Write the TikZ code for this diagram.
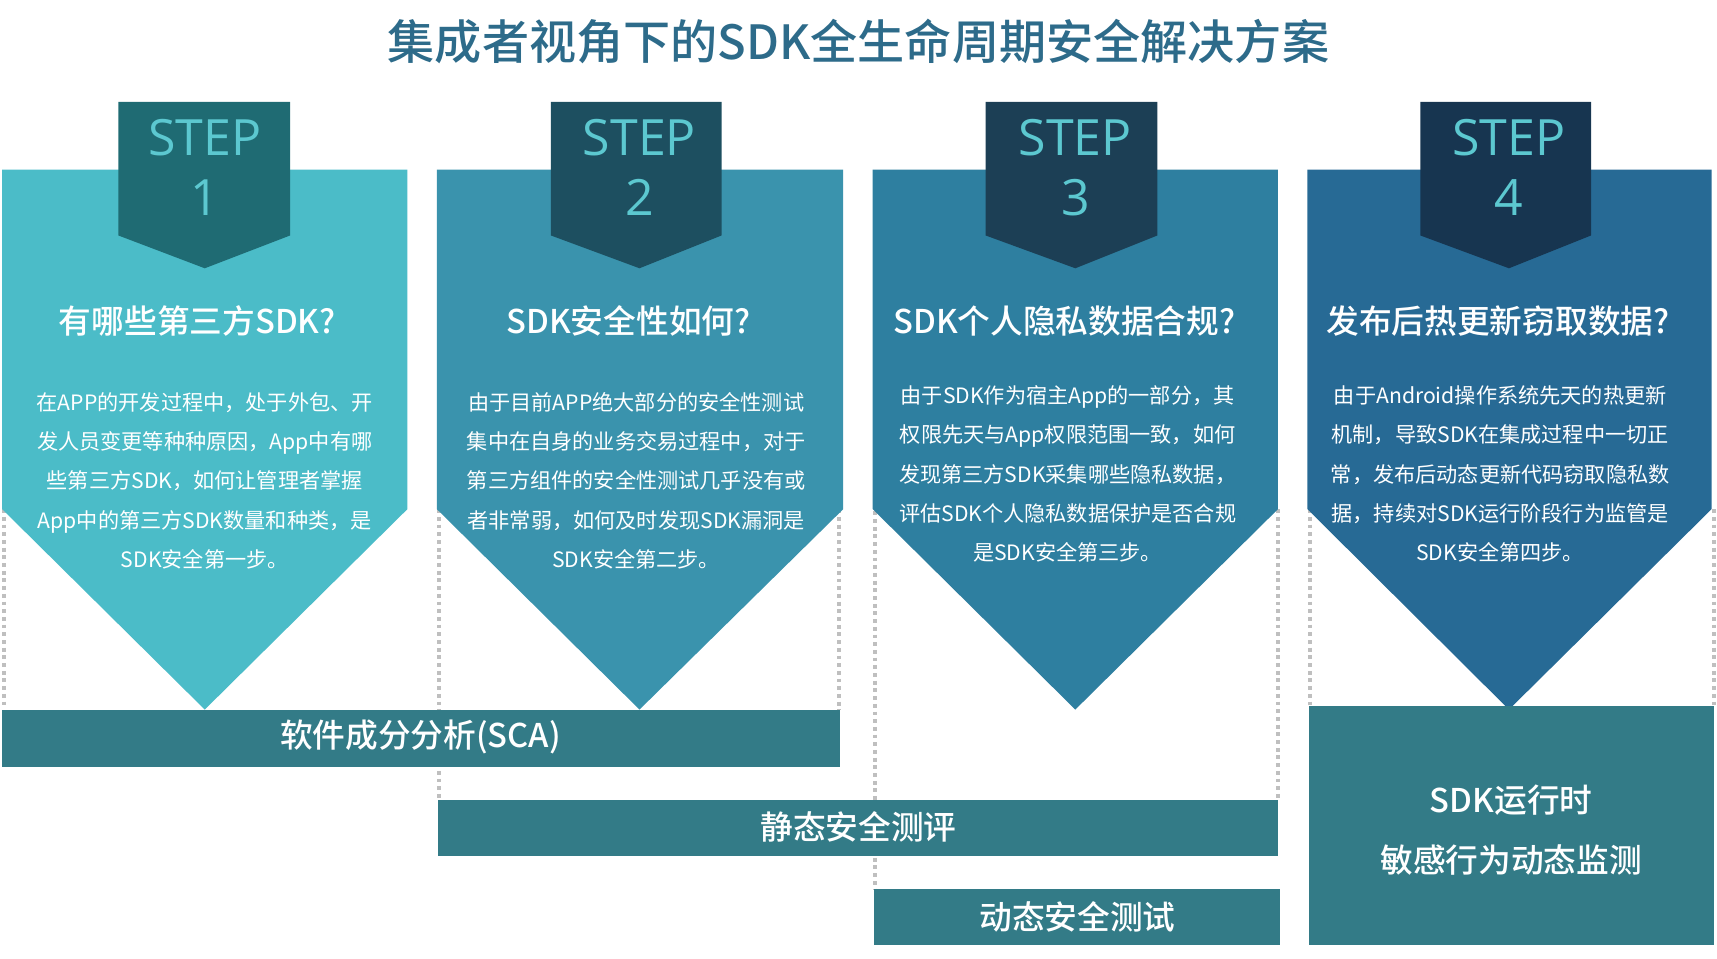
\documentclass[tikz,border=0pt]{standalone}
\usepackage{fontspec}
\setmainfont{Noto Sans CJK SC}[BoldFont={Noto Sans CJK SC Medium}]
\newfontfamily\stepfont{Open Sans}
\begin{document}
\begin{tikzpicture}[x=0.02cm,y=-0.02cm,
  hd/.style={text=white,font=\fontsize{17}{20}\selectfont\bfseries},
  bd/.style={text=white,align=center,font=\fontsize{11}{20.4}\selectfont},
  st/.style={text=stepc,align=center,font=\stepfont\fontsize{26}{31}\selectfont},
  bar/.style={fill=barc,draw=none},
  bt/.style={text=white,font=\fontsize{17}{31}\selectfont\bfseries,align=center},
  dl/.style={draw=gray!50,line width=2pt,dotted}]
\definecolor{c1}{HTML}{4BBCC8}\definecolor{c2}{HTML}{3A93AD}
\definecolor{c3}{HTML}{2E7FA0}\definecolor{c4}{HTML}{276A95}
\definecolor{s1}{HTML}{1F6B73}\definecolor{s2}{HTML}{1D4F60}
\definecolor{s3}{HTML}{1C3F55}\definecolor{s4}{HTML}{173550}
\definecolor{stepc}{HTML}{5CC8D0}\definecolor{barc}{HTML}{337B87}
\definecolor{tc}{HTML}{2D6B8A}
\useasboundingbox (0,0) rectangle (1568,875);
\node[text=tc,font=\fontsize{24.5}{28}\selectfont\bfseries] (title) at (784,38) {集成者视角下的SDK全生命周期安全解决方案};
% dotted lines
\draw[dl] (4,465) -- (4,645);
\draw[dl] (401,465) -- (401,730);
\draw[dl] (766,430) -- (766,648);
\draw[dl] (799,460) -- (799,812);
\draw[dl] (1167,465) -- (1167,730);
\draw[dl] (1196,465) -- (1196,645);
\draw[dl] (1565,465) -- (1565,645);
% columns
\foreach \l/\r/\m/\c/\s/\sl/\sr/\n in {2/372/187/c1/s1/108/265/1, 399/770/584/c2/s2/503/659/2, 797/1167/982/c3/s3/900/1057/3, 1194/1563/1378/c4/s4/1297/1453/4}{
  \fill[\c] (\l,155) -- (\r,155) -- (\r,465) -- (\m,648) -- (\l,465) -- cycle;
  \fill[\s] (\sl,93) -- (\sr,93) -- (\sr,215) -- (\m,245) -- (\sl,215) -- cycle;
  \node[st] (step\n) at (\m,153) {STEP\\\n};
}
\node[hd] (h1) at (180,293) {有哪些第三方SDK?};
\node[hd] (h2) at (574,293) {SDK安全性如何?};
\node[hd] (h3) at (972,293) {SDK个人隐私数据合规?};
\node[hd] (h4) at (1368,293) {发布后热更新窃取数据?};
\node[bd] (b1) at (187,439) {在APP的开发过程中，处于外包、开\\发人员变更等种种原因，App中有哪\\些第三方SDK，如何让管理者掌握\\App中的第三方SDK数量和种类，是\\SDK安全第一步。};
\node[bd] (b2) at (581,439) {由于目前APP绝大部分的安全性测试\\集中在自身的业务交易过程中，对于\\第三方组件的安全性测试几乎没有或\\者非常弱，如何及时发现SDK漏洞是\\SDK安全第二步。};
\node[bd] (b3) at (975,433) {由于SDK作为宿主App的一部分，其\\权限先天与App权限范围一致，如何\\发现第三方SDK采集哪些隐私数据，\\评估SDK个人隐私数据保护是否合规\\是SDK安全第三步。};
\node[bd] (b4) at (1370,433) {由于Android操作系统先天的热更新\\机制，导致SDK在集成过程中一切正\\常，发布后动态更新代码窃取隐私数\\据，持续对SDK运行阶段行为监管是\\SDK安全第四步。};
% bars
\fill[barc] (2,648) rectangle (767,700);
\node[bt] (sca) at (384,673) {软件成分分析(SCA)};
\fill[barc] (400,731) rectangle (1167,782);
\node[bt] (sta) at (784,755) {静态安全测评};
\fill[barc] (798,812) rectangle (1169,863);
\node[bt] (dyn) at (984,837) {动态安全测试};
\fill[barc] (1195,645) rectangle (1565,863);
\node[bt] (mon) at (1380,758) {SDK运行时\\敏感行为动态监测};
\end{tikzpicture}
\end{document}
